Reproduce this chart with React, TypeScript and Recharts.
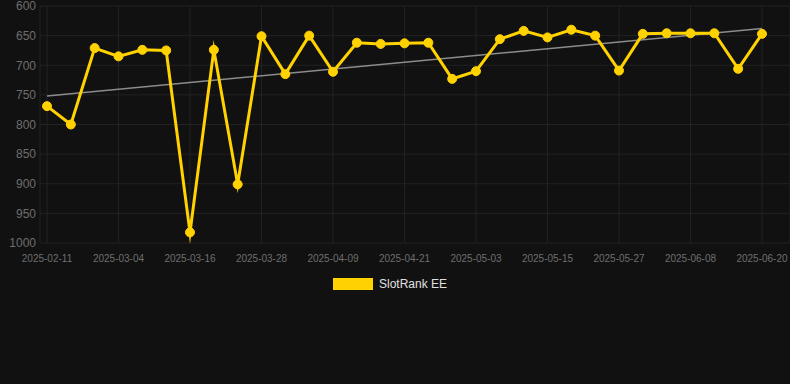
import React from "react";
import {
  LineChart,
  Line,
  XAxis,
  YAxis,
  CartesianGrid,
  Legend,
  ReferenceLine,
} from "recharts";

const dates = [
  "2025-02-11", "2025-02-18", "2025-02-25", "2025-03-04", "2025-03-08", "2025-03-12",
  "2025-03-16", "2025-03-20", "2025-03-24", "2025-03-28", "2025-04-01", "2025-04-05",
  "2025-04-09", "2025-04-13", "2025-04-17", "2025-04-21", "2025-04-25", "2025-04-29",
  "2025-05-03", "2025-05-07", "2025-05-11", "2025-05-15", "2025-05-19", "2025-05-23",
  "2025-05-27", "2025-05-31", "2025-06-04", "2025-06-08", "2025-06-12", "2025-06-16",
  "2025-06-20",
];

const ranks = [
  769, 800, 671, 685, 674, 675, 982, 674, 901, 651, 715, 650, 711, 662, 664, 663,
  662, 723, 710, 656, 642, 653, 640, 650, 709, 647, 646, 646, 646, 706, 647,
];

const xTicks = [
  "2025-02-11", "2025-03-04", "2025-03-16", "2025-03-28", "2025-04-09", "2025-04-21",
  "2025-05-03", "2025-05-15", "2025-05-27", "2025-06-08", "2025-06-20",
];

const yTicks = [600, 650, 700, 750, 800, 850, 900, 950, 1000];

const trendStart = 752;
const trendEnd = 638;

const seriesName = "SlotRank EE";

const data = dates.map((d, i) => ({ date: d, rank: ranks[i] }));

const GOLD = "#FFD200";
const FONT = "'Liberation Sans', Arial, Helvetica, sans-serif";

const LegendContent = () => (
  <div
    style={{
      height: 24,
      display: "flex",
      alignItems: "center",
      justifyContent: "center",
      fontFamily: FONT,
      fontSize: 12,
      color: "#e0e0e0",
      paddingRight: 10,
    }}
  >
    <span
      style={{
        display: "inline-block",
        width: 40,
        height: 12,
        background: GOLD,
        marginRight: 6,
      }}
    />
    <span>{seriesName}</span>
  </div>
);

export default function App() {
  return (
    <div
      style={{
        position: "absolute",
        left: 0,
        top: 0,
        width: 790,
        height: 384,
        background: "#111111",
      }}
    >
      <LineChart
        width={790}
        height={384}
        data={data}
        margin={{ top: 6, right: 0, left: 0, bottom: 87 }}
      >
        <CartesianGrid stroke="#222222" strokeWidth={1} />
        <XAxis
          dataKey="date"
          ticks={xTicks}
          interval={0}
          padding={{ left: 7, right: 28 }}
          axisLine={false}
          tickLine={false}
          tickSize={6}
          tickMargin={6}
          height={30}
          tick={{ fill: "#6e6e6e", fontSize: 10, fontFamily: FONT }}
        />
        <YAxis
          reversed
          domain={[600, 1000]}
          ticks={yTicks}
          interval={0}
          width={40}
          axisLine={false}
          tickLine={false}
          tickSize={0}
          tickMargin={4}
          tick={{ fill: "#6e6e6e", fontSize: 12, fontFamily: FONT }}
        />
        <ReferenceLine
          segment={[
            { x: dates[0], y: trendStart },
            { x: dates[dates.length - 1], y: trendEnd },
          ]}
          stroke="#8c8c8c"
          strokeWidth={1.5}
        />
        <Line
          type="linear"
          dataKey="rank"
          name={seriesName}
          stroke={GOLD}
          strokeWidth={3}
          strokeMiterlimit={10}
          dot={{ r: 4.5, fill: GOLD, stroke: GOLD, strokeWidth: 1 }}
          activeDot={false}
          isAnimationActive={false}
        />
        <Legend
          verticalAlign="bottom"
          content={<LegendContent />}
          wrapperStyle={{ top: 272, left: 0, width: 790 }}
        />
      </LineChart>
    </div>
  );
}
